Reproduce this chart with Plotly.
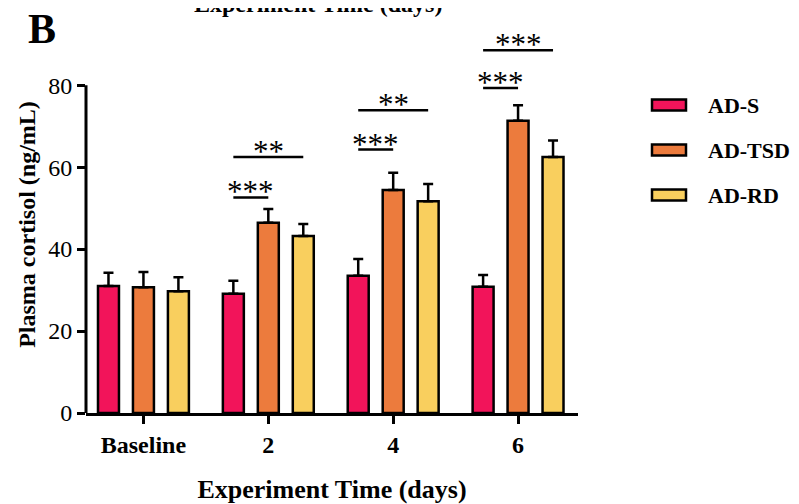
import plotly.graph_objects as go

categories = ["Baseline", "2", "4", "6"]
series_names = ["AD-S", "AD-TSD", "AD-RD"]
ad_s = [31.0, 29.1, 33.5, 30.8]
ad_s_err = [3.2, 3.2, 4.1, 2.9]
ad_tsd = [30.7, 46.4, 54.4, 71.3]
ad_tsd_err = [3.7, 3.4, 4.2, 3.8]
ad_rd = [29.7, 43.2, 51.7, 62.5]
ad_rd_err = [3.4, 2.9, 4.2, 4.0]
colors = ["#F2145A", "#EC7B3D", "#F9CF5E"]

# significance brackets: (category index, from series, to series, y, label)
sig = [
    (1, 0, 1, 52.6, "***"),
    (1, 0, 2, 62.5, "**"),
    (2, 0, 1, 64.3, "***"),
    (2, 0, 2, 73.9, "**"),
    (3, 0, 1, 79.3, "***"),
    (3, 0, 2, 88.5, "***"),
]
y_ticks = [0, 20, 40, 60, 80]

OFF = 8  # page body margin
W, H = 799 - OFF, 504 - OFF
ML, MR, MT = 86 - OFF, 221, 36 - OFF
MB = H - (413 - OFF)
PW, PH = W - ML - MR, H - MT - MB
def px_x(p):
    return (p - OFF - ML) / PW
def px_y(p):
    return (H - MB - (p - OFF)) / PH

FONT = "Liberation Serif"
fig = go.Figure()
vals = [ad_s, ad_tsd, ad_rd]
errs = [ad_s_err, ad_tsd_err, ad_rd_err]
for name, v, e, c in zip(series_names, vals, errs, colors):
    fig.add_trace(go.Bar(
        x=categories, y=v, name=name,
        marker=dict(color=c, line=dict(color="black", width=2.5)),
        error_y=dict(type="data", array=e, arrayminus=[0]*len(e), symmetric=False,
                     color="black", thickness=2.5, width=5),
        showlegend=False,
    ))

bargap = 0.16
slot = (1 - bargap) / 3
offsets = [-slot, 0, slot]

shapes = []
annotations = []
for ci, a, b, yv, lab in sig:
    x0 = ci + offsets[a]
    x1 = ci + offsets[b]
    shapes.append(dict(type="line", xref="x", yref="y", x0=x0, x1=x1, y0=yv, y1=yv,
                       line=dict(color="black", width=2.5)))
    annotations.append(dict(x=(x0 + x1) / 2, y=yv, xref="x", yref="y", text=lab,
                            showarrow=False, yanchor="bottom", yshift=-14,
                            font=dict(family=FONT, size=31, color="black")))

# y axis line only up to 80
shapes.append(dict(type="line", xref="paper", yref="y", x0=0, x1=0, y0=0, y1=80,
                   line=dict(color="black", width=3)))

# manual legend
leg_y = [105, 150, 195]
for name, c, py in zip(series_names, colors, leg_y):
    shapes.append(dict(type="rect", xref="paper", yref="paper",
                       x0=px_x(652), x1=px_x(686), y0=px_y(py + 5.5), y1=px_y(py - 5.5),
                       fillcolor=c, line=dict(color="black", width=2.5)))
    annotations.append(dict(x=px_x(706), y=px_y(py), xref="paper", yref="paper",
                            text="<b>%s</b>" % name, showarrow=False,
                            xanchor="left", yanchor="middle",
                            font=dict(family=FONT, size=22, color="black")))

annotations.append(dict(x=px_x(26), y=px_y(29), xref="paper", yref="paper", text="<b>B</b>",
                        showarrow=False, xanchor="left", yanchor="middle",
                        font=dict(family=FONT, size=42, color="black")))
annotations.append(dict(x=px_x(318), y=px_y(19), xref="paper", yref="paper",
                        text="<b>Experiment Time (days)</b>",
                        showarrow=False, xanchor="center", yanchor="bottom",
                        font=dict(family=FONT, size=24, color="black")))

fig.update_layout(
    width=W, height=H,
    margin=dict(l=ML, r=MR, t=MT, b=MB, autoexpand=False),
    plot_bgcolor="white", paper_bgcolor="white",
    barmode="group", bargap=bargap, bargroupgap=0.4,
    font=dict(family=FONT, color="black"),
    shapes=shapes, annotations=annotations,
    xaxis=dict(
        range=[-0.46, 3.48], showline=True, linewidth=3, linecolor="black",
        ticks="outside", ticklen=8, tickwidth=3, tickcolor="black",
        tickfont=dict(family=FONT, size=24, color="black"),
        tickprefix="<b>", ticksuffix="</b>",
        title=dict(text="<b>Experiment Time (days)</b>", standoff=25,
                   font=dict(family=FONT, size=26, color="black")),
        showgrid=False, zeroline=False,
    ),
    yaxis=dict(
        range=[0, 92], showline=False, tickvals=y_ticks,
        ticks="outside", ticklen=8, tickwidth=3, tickcolor="black",
        tickfont=dict(family=FONT, size=24, color="black"),
        tickprefix="<b>", ticksuffix="</b>",
        title=dict(text="<b>Plasma cortisol (ng/mL)</b>", standoff=5,
                   font=dict(family=FONT, size=24, color="black")),
        showgrid=False, zeroline=False,
    ),
)
fig.write_html("out.html")
